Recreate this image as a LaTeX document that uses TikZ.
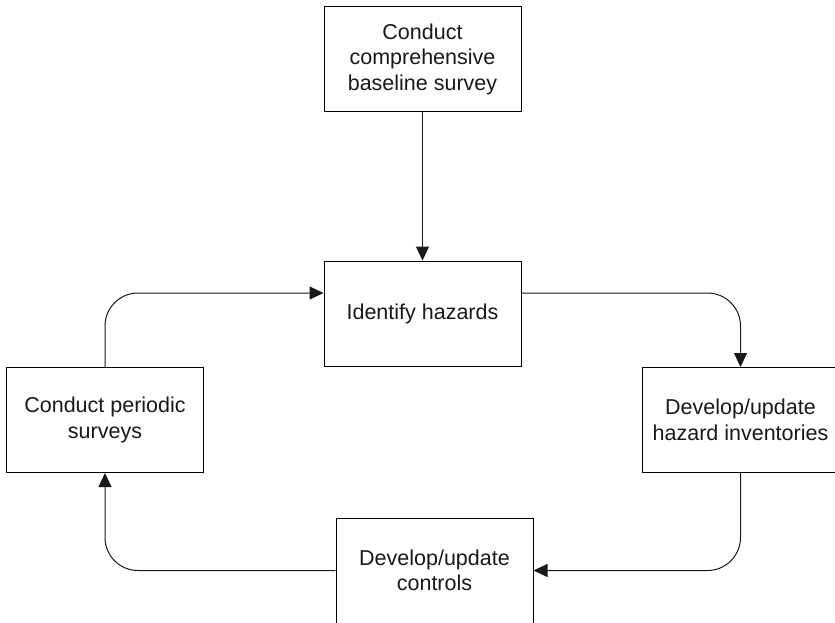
\documentclass[tikz,border=0pt]{standalone}
\usepackage{fontspec}
\setmainfont{Liberation Sans}
\usetikzlibrary{arrows.meta}
\begin{document}
\begin{tikzpicture}[x=1pt,y=-1pt,
  stepbox/.style={draw=black, line width=1pt, fill=white, rectangle,
    minimum width=197pt, minimum height=105pt, inner sep=0pt,
    align=center, text=black!90, font=\fontsize{21.5}{25.5}\selectfont},
  flow/.style={draw=black!90, line width=1pt, rounded corners=33pt,
    -{Triangle[length=14pt,width=13pt]}}]
  \clip (0,0) rectangle (835,622);
  \fill[white] (0,0) rectangle (835,622);

  % process steps
  \node[stepbox] (baseline) at (422.5,59) {Conduct\\comprehensive\\baseline survey};
  \node[stepbox] (identify) at (422.5,313.5) {Identify hazards};
  \node[stepbox] (periodic) at (105,420) {Conduct periodic\\surveys};
  \node[stepbox] (inventory) at (740.5,420) {Develop/update\\hazard inventories};
  \node[stepbox] (controls) at (434.5,570.5) {Develop/update\\controls};

  % connectors of the cycle
  \draw[flow] (baseline.south) -- (identify.north);
  \draw[flow] ([yshift=20.5pt]identify.east) -| (inventory.north);
  \draw[flow] (inventory.south) |- (controls.east);
  \draw[flow] (controls.west) -| (periodic.south);
  \draw[flow] (periodic.north) |- ([yshift=20.5pt]identify.west);
\end{tikzpicture}
\end{document}
